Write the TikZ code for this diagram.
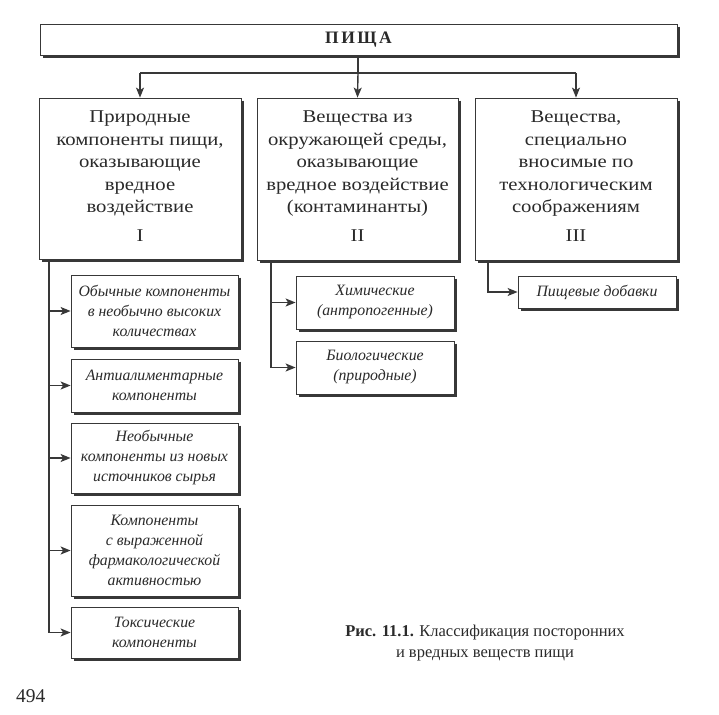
\documentclass[tikz,border=0pt]{standalone}
\usepackage{fontspec}
\setmainfont{Liberation Serif}
\newfontfamily\widefont[FakeStretch=1.15]{Liberation Serif}
\usetikzlibrary{arrows.meta}
\definecolor{ink}{HTML}{383838}
\definecolor{txt}{HTML}{2A2A2A}
\tikzset{
  box/.style={draw=ink, line width=0.8pt, fill=white, inner sep=0pt, text=txt, align=center},
  conn/.style={draw=ink, line width=1.4pt},
  arr/.style={conn, -{Stealth[length=10pt,width=8pt,inset=2.5pt]}},
  shade/.style={draw=ink, line width=2pt, line cap=butt},
  bigtext/.style={text=txt, align=center, anchor=north, inner sep=0pt, font=\widefont\fontsize{18}{22.5}\selectfont},
  subtext/.style={font=\fontsize{15.8}{20}\selectfont\itshape},
}
\newcommand{\boxshade}[1]{%
  \draw[shade] ([xshift=1.2pt,yshift=-3pt]#1.north east) -- ([xshift=1.2pt,yshift=-1.2pt]#1.south east) -- ([xshift=3pt,yshift=-1.2pt]#1.south west);}
\begin{document}
\begin{tikzpicture}[x=1pt,y=-1pt]
\useasboundingbox[fill=white] (0,0) rectangle (719,714);

% top box
\node[box, minimum width=637pt, minimum height=31pt, font=\fontsize{17.5}{18}\selectfont\bfseries] (top) at (358.5,39.5) {П\hspace{2.5pt}И\hspace{2.5pt}Щ\hspace{2.5pt}А};
\boxshade{top}

% level-1 boxes
\node[box, minimum width=202pt, minimum height=161pt] (b1) at (140,178.5) {};
\node[bigtext] (b1t) at (140,111) {Природные\\компоненты пищи,\\оказывающие\\вредное\\воздействие\\[6.5pt]I};
\node[box, minimum width=201pt, minimum height=162pt] (b2) at (357.5,179) {};
\node[bigtext] (b2t) at (357.5,111) {Вещества из\\окружающей среды,\\оказывающие\\вредное воздействие\\(контаминанты)\\[6.5pt]II};
\node[box, minimum width=202pt, minimum height=162pt] (b3) at (576,179) {};
\node[bigtext] (b3t) at (576,111) {Вещества,\\специально\\вносимые по\\технологическим\\соображениям\\[6.5pt]III};
\boxshade{b1}\boxshade{b2}\boxshade{b3}

% sub boxes I
\node[box, subtext, minimum width=167pt, minimum height=72pt] (s1) at (154.5,311) {Обычные компоненты\\в необычно высоких\\количествах};
\node[box, subtext, minimum width=167pt, minimum height=53pt] (s2) at (154.5,385.5) {Антиалиментарные\\компоненты};
\node[box, subtext, minimum width=167pt, minimum height=70pt] (s3) at (154.5,458) {Необычные\\компоненты из новых\\источников сырья};
\node[box, subtext, minimum width=167pt, minimum height=91pt] (s4) at (154.5,550.5) {Компоненты\\с выраженной\\фармакологической\\активностью};
\node[box, subtext, minimum width=167pt, minimum height=51pt] (s5) at (154.5,632.5) {Токсические\\компоненты};
\foreach \n in {s1,s2,s3,s4,s5} {\boxshade{\n}}

% sub boxes II
\node[box, subtext, minimum width=158pt, minimum height=53pt] (c1) at (375,302.5) {Химические\\(антропогенные)};
\node[box, subtext, minimum width=158pt, minimum height=53pt] (c2) at (375,367.5) {Биологические\\(природные)};
\boxshade{c1}\boxshade{c2}

% sub box III
\node[box, subtext, minimum width=158pt, minimum height=32pt] (d1) at (597,292) {Пищевые добавки};
\boxshade{d1}

% top connectors
\coordinate (hub) at (358,73);
\coordinate (hl) at (140,73);
\coordinate (hr) at (576,73);
\draw[conn] (top.south -| hub) -- (hub);
\draw[conn] (hl) -- (hr);
\draw[arr] (hl) -- (b1.north);
\draw[arr] (hub) -- (b2.north);
\draw[arr] (hr) -- (b3.north);

% trunk I
\coordinate (t1) at (49,259);
\foreach \n in {s1,s2,s3,s4,s5} {\draw[arr] (t1) |- (\n.west);}
% trunk II
\coordinate (t2) at (271,260);
\foreach \n in {c1,c2} {\draw[arr] (t2) |- (\n.west);}
% trunk III
\coordinate (t3) at (488,260);
\draw[arr] (t3) |- (d1.west);

% caption
\node[text=txt, align=center, font=\fontsize{16.5}{21}\selectfont] (cap) at (485,643) {\textbf{Рис. 11.1.} Классификация посторонних\\и вредных веществ пищи};
% page number
\node[text=txt, anchor=south west, inner sep=0pt, font=\fontsize{19.5}{20}\selectfont] (pg) at (16,703) {494};
\end{tikzpicture}
\end{document}
